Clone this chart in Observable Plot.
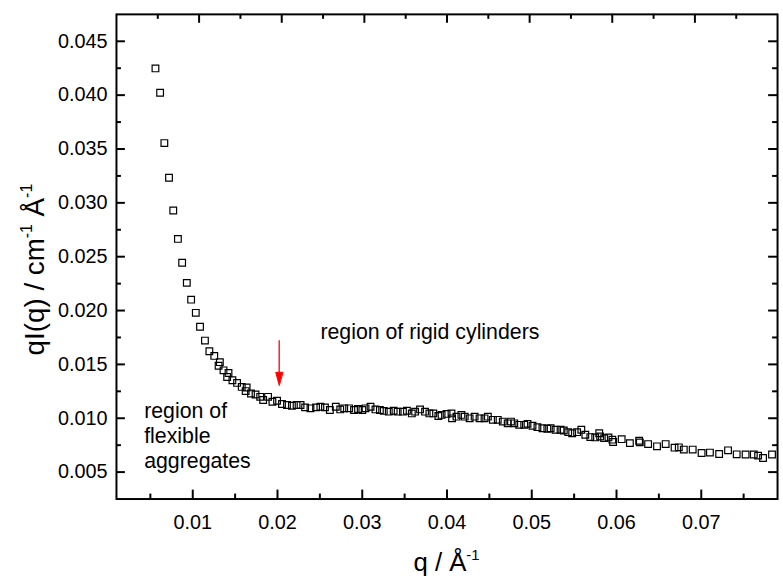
<!DOCTYPE html>
<html><head><meta charset="utf-8">
<script src="https://cdn.jsdelivr.net/npm/d3@7"></script>
<script src="https://cdn.jsdelivr.net/npm/@observablehq/plot@0.6"></script>
<style>html,body{margin:0;padding:0;overflow:hidden;background:#fff}</style>
</head><body><div id="chart"></div>
<script>
// Data: q (Å^-1) and qI(q) (cm^-1 Å^-1)
const q = [
  0.00560, 0.00615, 0.00665, 0.00720, 0.00770, 0.00825, 0.00875, 0.00930, 0.00981, 0.01036,
  0.01086, 0.01144, 0.01196, 0.01254, 0.01305, 0.01320, 0.01363, 0.01406, 0.01422, 0.01468,
  0.01523, 0.01578, 0.01624, 0.01636, 0.01687, 0.01741, 0.01796, 0.01831, 0.01889, 0.01940,
  0.01995, 0.02053, 0.02112, 0.02170, 0.02225,
  0.02272, 0.02326, 0.02389, 0.02455, 0.02506, 0.02560, 0.02618, 0.02688, 0.02740, 0.02787,
  0.02845, 0.02903, 0.02950, 0.03001, 0.03039, 0.03098, 0.03156, 0.03208, 0.03254, 0.03313,
  0.03371, 0.03418, 0.03480, 0.03527, 0.03585, 0.03624, 0.03682, 0.03741, 0.03792, 0.03839,
  0.03898, 0.03936, 0.03995, 0.04053, 0.04060, 0.04112, 0.04170, 0.04209, 0.04267, 0.04326,
  0.04384, 0.04443, 0.04482, 0.04541, 0.04599, 0.04658, 0.04716, 0.04755, 0.04794, 0.04852,
  0.04911,
  0.04950, 0.05009, 0.05067, 0.05126, 0.05184, 0.05223, 0.05281, 0.05340, 0.05378, 0.05430,
  0.05477, 0.05535, 0.05585, 0.05632, 0.05691, 0.05749, 0.05796, 0.05807, 0.05854, 0.05905,
  0.05951, 0.05960, 0.06061, 0.06158, 0.06267, 0.06275, 0.06373, 0.06478, 0.06580, 0.06685,
  0.06735, 0.06794, 0.06899, 0.07004, 0.07102, 0.07211, 0.07316, 0.07418, 0.07523, 0.07620,
  0.07671, 0.07729, 0.07835
];
const I = [
  0.04248, 0.04022, 0.03555, 0.03233, 0.02929, 0.02665, 0.02444, 0.02257, 0.02101, 0.01979,
  0.01850, 0.01721, 0.01622, 0.01579, 0.01487, 0.01521, 0.01445, 0.01383, 0.01420, 0.01353,
  0.01328, 0.01291, 0.01252, 0.01285, 0.01230, 0.01220, 0.01199, 0.01169, 0.01199, 0.01153,
  0.01162, 0.01132, 0.01123, 0.01116, 0.01123,
  0.01123, 0.01101, 0.01092, 0.01101, 0.01107, 0.01101, 0.01077, 0.01107, 0.01082, 0.01092,
  0.01092, 0.01077, 0.01086, 0.01077, 0.01092, 0.01107, 0.01082, 0.01077, 0.01068, 0.01061,
  0.01070, 0.01061, 0.01061, 0.01070, 0.01045, 0.01061, 0.01082, 0.01061, 0.01045, 0.01045,
  0.01021, 0.01031, 0.01040, 0.01045, 0.00999, 0.01015, 0.01031, 0.01015, 0.00999, 0.01015,
  0.00999, 0.00999, 0.01015, 0.00985, 0.00985, 0.00969, 0.00953, 0.00969, 0.00953, 0.00939,
  0.00939,
  0.00948, 0.00930, 0.00917, 0.00907, 0.00902, 0.00907, 0.00893, 0.00893, 0.00886, 0.00871,
  0.00861, 0.00871, 0.00893, 0.00847, 0.00825, 0.00822, 0.00861, 0.00831, 0.00815, 0.00822,
  0.00801, 0.00779, 0.00806, 0.00769, 0.00791, 0.00776, 0.00760, 0.00739, 0.00760, 0.00727,
  0.00730, 0.00709, 0.00709, 0.00677, 0.00681, 0.00668, 0.00702, 0.00665, 0.00663, 0.00663,
  0.00653, 0.00631, 0.00663
];

// Axes
const xDomain = [0.001, 0.079];      // bottom axis
const xTopDomain = [0, 0.08];        // top axis (unlabelled)
const yDomain = [0.0025, 0.0475];
const xMajor = [0.01, 0.02, 0.03, 0.04, 0.05, 0.06, 0.07];
const xMinor = [0.005, 0.015, 0.025, 0.035, 0.045, 0.055, 0.065, 0.075];
const yMajor = [0.005, 0.010, 0.015, 0.020, 0.025, 0.030, 0.035, 0.040, 0.045];
const yMinor = [0.0075, 0.0125, 0.0175, 0.0225, 0.0275, 0.0325, 0.0375, 0.0425];

// Annotations
const annoQ = [0.02506, 0.00427];
const annoI = [0.01733, 0.00541];
const annoText = ["region of rigid cylinders", "region of\nflexible\naggregates"];
const arrowQ = [0.0202];
const arrowFrom = [0.0172];
const arrowTo = [0.01307];

const W = 790, H = 582, mL = 117, mR = 6, mT = 14, mB = 79;
const innerW = W - mL - mR, innerH = H - mT - mB;
const majorLen = 9, minorLen = 5;

const data = q.map((d, i) => ({q: d, I: I[i]}));
const annotations = annoText.map((t, i) => ({q: annoQ[i], I: annoI[i], text: t}));
const arrows = arrowQ.map((d, i) => ({q: d, from: arrowFrom[i], to: arrowTo[i]}));
const topToX = d3.scaleLinear().domain(xTopDomain).range(xDomain);

const headShape = {
  draw(context, l, r) {
    context.moveTo(-r, 0);
    context.lineTo(r, 0);
    context.lineTo(0, -l);
    context.closePath();
  }
};

const tickStyle = {stroke: "black", strokeWidth: 2};

const chart = Plot.plot({
  width: W, height: H,
  marginLeft: mL, marginRight: mR, marginTop: mT, marginBottom: mB,
  style: {fontFamily: "'Liberation Sans', Arial, Helvetica, sans-serif", fontSize: "20px", color: "black", background: "white"},
  x: {domain: xDomain},
  y: {domain: yDomain},
  marks: [
    // inward ticks: bottom
    Plot.tickX(xMajor, {x: d => d, insetTop: innerH - majorLen, ...tickStyle}),
    Plot.tickX(xMinor, {x: d => d, insetTop: innerH - minorLen, ...tickStyle}),
    // top (secondary scale)
    Plot.tickX(xMajor, {x: d => topToX(d), insetBottom: innerH - majorLen, ...tickStyle}),
    Plot.tickX(xMinor, {x: d => topToX(d), insetBottom: innerH - minorLen, ...tickStyle}),
    // left
    Plot.tickY(yMajor, {y: d => d, insetRight: innerW - majorLen, ...tickStyle}),
    Plot.tickY(yMinor, {y: d => d, insetRight: innerW - minorLen, ...tickStyle}),
    // right
    Plot.tickY(yMajor, {y: d => d, insetLeft: innerW - majorLen, ...tickStyle}),
    Plot.tickY(yMinor, {y: d => d, insetLeft: innerW - minorLen, ...tickStyle}),
    Plot.frame({stroke: "black", strokeWidth: 2}),
    Plot.axisX({ticks: xMajor, tickSize: 0, tickPadding: 16, tickFormat: d3.format(".2f"), label: null, fontSize: 20}),
    Plot.axisY({ticks: yMajor, tickSize: 0, tickPadding: 9, tickFormat: d3.format(".3f"), label: null, fontSize: 20}),
    Plot.dot(data, {x: "q", y: "I", symbol: "square", r: 3.8, stroke: "black", fill: "none", strokeWidth: 1.2}),
    Plot.text(annotations, {x: "q", y: "I", text: "text", textAnchor: "start", lineAnchor: "bottom", lineHeight: 1.17, fontSize: 21.5, fill: "black"}),
    Plot.ruleX(arrows, {x: "q", y1: "from", y2: "to", insetBottom: 12, stroke: "red", strokeWidth: 1.3}),
    Plot.vector(arrows, {x: "q", y: "to", length: 13, rotate: 180, anchor: "end", r: 3.5, shape: headShape, fill: "red", stroke: "red", strokeWidth: 1})
  ]
});
document.getElementById("chart").appendChild(chart);

// Axis titles with superscripts
const svg = d3.select(chart);
const xt = svg.append("text")
  .attr("x", (mL + W - mR) / 2).attr("y", 576)
  .attr("text-anchor", "middle").attr("font-size", 26).attr("fill", "black");
xt.append("tspan").text("q / Å");
xt.append("tspan").attr("dy", -11).attr("font-size", 15).text("-1");

const yt = svg.append("text")
  .attr("transform", "translate(44,272) rotate(-90)")
  .attr("text-anchor", "middle").attr("font-size", 28).attr("fill", "black");
yt.append("tspan").text("qI(q) / cm");
yt.append("tspan").attr("dy", -12).attr("font-size", 16).text("-1");
yt.append("tspan").attr("dy", 12).text("\u00a0Å");
yt.append("tspan").attr("dy", -12).attr("font-size", 16).text("-1");
</script>
</body></html>
